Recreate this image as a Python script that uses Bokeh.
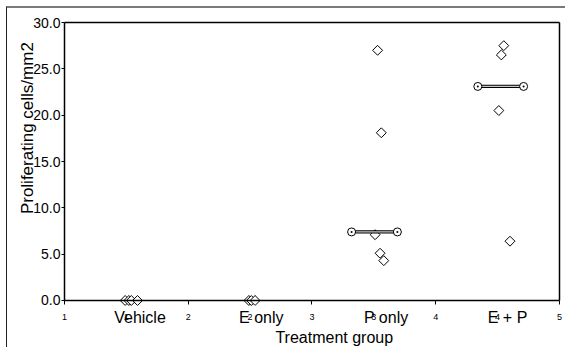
import math
from bokeh.plotting import figure
from bokeh.models import (Range1d, FixedTicker, LinearAxis, Label, LabelSet,
                          ColumnDataSource, NumeralTickFormatter)
from bokeh.core.properties import value
from bokeh.embed import file_html
from bokeh.resources import INLINE

# ---- data ----
groups = ["Vehicle", "E only", "P only", "E + P"]
group_pos = [1.5, 2.5, 3.5, 4.5]
group_num = ["1", "2", "3", "4"]
group_label_x = [1.61, 2.59, 3.60, 4.58]

vehicle_x = [1.49, 1.52, 1.54, 1.59]
vehicle_y = [0.0, 0.0, 0.0, 0.0]
eonly_x = [2.49, 2.51, 2.54]
eonly_y = [0.0, 0.0, 0.0]
ponly_x = [3.53, 3.56, 3.51, 3.55, 3.58]
ponly_y = [27.0, 18.1, 7.1, 5.1, 4.3]
ep_x = [4.55, 4.53, 4.51, 4.60]
ep_y = [27.5, 26.5, 20.5, 6.4]

median_x0 = [3.32, 4.34]
median_x1 = [3.69, 4.71]
median_y = [7.4, 23.1]

x_ticks = [1, 2, 3, 4, 5]
y_ticks = [0, 5, 10, 15, 20, 25, 30]

FONT = "Liberation Sans"

# the plotting frame fills the whole canvas; axes are pinned at data locations
p = figure(width=559, height=341, output_backend="svg", toolbar_location=None,
           x_range=Range1d(0.5394, 5.0566), y_range=Range1d(-5.288, 31.511),
           min_border_left=0, min_border_right=0, min_border_top=0,
           min_border_bottom=0, background_fill_color="white",
           border_fill_color="white")
p.styles = {"margin-left": "6px", "margin-top": "6px",
            "border-left": "1px solid #202020", "border-top": "2px solid #7a7a7a"}
p.outline_line_color = None
p.grid.visible = False

# x axis at y=0
xa = p.xaxis[0]
xa.ticker = FixedTicker(ticks=x_ticks)
xa.fixed_location = 0
xa.bounds = (1, 5)
xa.axis_line_color = "black"
xa.axis_line_width = 1.5
xa.major_tick_in = 0
xa.major_tick_out = 4
xa.minor_tick_line_color = None
xa.major_label_standoff = 10
xa.major_label_text_font = FONT
xa.major_label_text_font_size = "9px"
xa.major_label_text_color = "black"

# y axis at x=1
ya = p.yaxis[0]
ya.ticker = FixedTicker(ticks=y_ticks)
ya.fixed_location = 1
ya.bounds = (0, 30)
ya.formatter = NumeralTickFormatter(format="0.0")
ya.axis_line_color = "black"
ya.axis_line_width = 1.5
ya.major_tick_in = 0
ya.major_tick_out = 3
ya.minor_tick_line_color = None
ya.major_label_standoff = 1
ya.major_label_text_font = FONT
ya.major_label_text_font_size = "14px"
ya.major_label_text_color = "black"

# box lines (top and right)
ra = LinearAxis(ticker=FixedTicker(ticks=[]), fixed_location=5, bounds=(0, 30),
                major_tick_out=0, major_tick_in=0, minor_tick_out=0, minor_tick_in=0,
                major_label_standoff=0, axis_line_width=1.5)
p.add_layout(ra, "right")
ta = LinearAxis(ticker=FixedTicker(ticks=[]), fixed_location=30, bounds=(1, 5),
                major_tick_out=0, major_tick_in=0, minor_tick_out=0, minor_tick_in=0,
                major_label_standoff=0, axis_line_width=1.5)
p.add_layout(ta, "above")

# points
all_x = vehicle_x + eonly_x + ponly_x + ep_x
all_y = vehicle_y + eonly_y + ponly_y + ep_y
p.scatter(all_x, all_y, marker="square", angle=math.pi / 4, size=7,
          fill_color="white", line_color="black", line_width=1)

# median bars
p.segment(median_x0, median_y, median_x1, median_y, line_color="black", line_width=3.2)
p.segment(median_x0, median_y, median_x1, median_y, line_color="#c8c8c8", line_width=1.2)
p.scatter(median_x0 + median_x1, median_y + median_y, marker="circle_dot", size=8,
          fill_color="white", line_color="black", line_width=1)

# category labels
src_names = ColumnDataSource(dict(x=group_label_x, y=[-1.83] * 4, t=groups))
p.add_layout(LabelSet(x="x", y="y", text="t", source=src_names,
                      text_align="center", text_baseline="middle",
                      text_font=value(FONT), text_font_size="16px",
                      text_color="black"))
src_nums = ColumnDataSource(dict(x=group_pos, y=[-1.83] * 4, t=group_num))
p.add_layout(LabelSet(x="x", y="y", text="t", source=src_nums,
                      text_align="center", text_baseline="middle",
                      text_font=value(FONT), text_font_size="9px",
                      text_color="black"))

p.add_layout(Label(x=3.18, y=-4.0, text="Treatment group", text_align="center",
                   text_baseline="middle", text_font=FONT,
                   text_font_size="16px", text_color="black"))
p.add_layout(Label(x=0.70, y=18.6, text="Proliferating cells/mm2", angle=math.pi / 2,
                   text_align="center", text_baseline="middle", text_font=FONT,
                   text_font_size="17px", text_color="black"))

open("out.html", "w").write(file_html(p, INLINE))
